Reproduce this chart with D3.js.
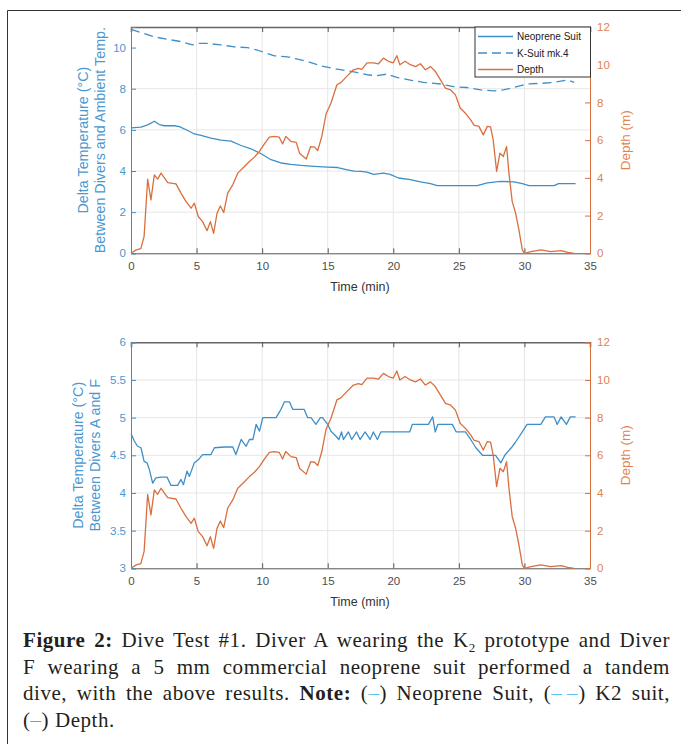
<!DOCTYPE html>
<html>
<head>
<meta charset="utf-8">
<script src="https://cdn.jsdelivr.net/npm/d3@7"></script>
<style>
  body { margin: 0; background: #fff; }
  #wrap { position: relative; width: 681px; height: 744px; overflow: hidden; }
  svg { position: absolute; left: 0; top: 0; }
  .cap { position: absolute; left: 23px; width: 647px; font-family: "Liberation Serif", "DejaVu Serif", serif;
         font-size: 21px; letter-spacing: 0.55px; line-height: 26.7px; color: #231f20; text-align: justify; text-align-last: justify; white-space: nowrap; }
  .cap.last { text-align-last: left; }
  .cap b { font-weight: 600; }
</style>
</head>
<body>
<div id="wrap"></div>
<script>
// time (min), value pairs
const depth = [[0,0],[0.4,0.18],[0.75,0.25],[1.0,0.9],[1.27,3.93],[1.52,2.83],[1.78,4.16],[2.03,3.93],[2.29,4.25],[2.8,3.75],[3.43,3.68],[3.81,3.19],[4.2,2.74],[4.58,2.39],[4.83,2.66],[5.13,1.95],[5.46,1.68],[5.8,1.2],[6.05,1.68],[6.3,1.06],[6.56,2.12],[6.81,2.51],[7.07,2.16],[7.37,3.19],[7.76,3.63],[8.14,4.25],[8.65,4.6],[9.03,4.87],[9.41,5.1],[9.79,5.4],[10.17,5.8],[10.55,6.16],[10.93,6.2],[11.3,6.16],[11.56,5.8],[11.8,6.2],[12.2,5.93],[12.6,5.88],[12.85,5.31],[13.36,5.0],[13.7,5.66],[14.0,5.63],[14.24,5.45],[14.55,6.2],[14.88,7.4],[15.25,7.97],[15.7,8.94],[16.0,9.05],[16.45,9.38],[16.96,9.73],[17.34,9.8],[17.6,9.75],[18.0,10.1],[18.5,10.1],[18.87,10.05],[19.25,10.35],[19.63,10.18],[20.0,10.1],[20.27,10.48],[20.5,10.0],[20.9,10.18],[21.3,10.0],[21.7,9.9],[22.07,10.05],[22.45,9.73],[22.84,9.9],[23.2,9.65],[23.6,9.2],[23.98,8.76],[24.36,8.67],[24.74,8.4],[25.1,7.7],[25.5,7.43],[25.9,7.08],[26.15,6.8],[26.53,6.73],[26.86,6.28],[27.17,6.73],[27.42,6.7],[27.62,6.0],[27.88,4.34],[28.13,5.31],[28.39,5.13],[28.64,5.66],[28.82,4.25],[29.07,2.74],[29.33,2.12],[29.58,1.24],[29.84,0.18],[30.0,0],[30.5,0.09],[31.25,0.18],[32.0,0.09],[32.8,0.14],[33.3,0.05],[33.8,0]];

const neoprene = [[0,6.1],[0.76,6.13],[1.27,6.24],[1.78,6.42],[2.16,6.26],[2.54,6.2],[3.3,6.2],[3.69,6.16],[4.32,5.97],[4.83,5.8],[5.34,5.73],[6.1,5.6],[6.86,5.5],[7.63,5.45],[8.39,5.24],[9.15,5.08],[9.92,4.84],[10.68,4.55],[11.44,4.39],[12.2,4.32],[12.97,4.27],[13.98,4.23],[15.0,4.19],[15.76,4.17],[16.5,4.06],[17.0,3.99],[17.54,3.98],[18.0,3.95],[18.5,3.84],[19.25,3.9],[19.75,3.84],[20.4,3.66],[21.3,3.58],[22.07,3.47],[22.84,3.39],[23.35,3.29],[24.1,3.29],[25.1,3.29],[26.4,3.29],[27.17,3.42],[28.2,3.5],[29.2,3.47],[29.84,3.39],[30.35,3.29],[31.25,3.29],[32.26,3.29],[32.6,3.39],[33.9,3.39]];

const kSuit = [[0,10.89],[0.76,10.73],[1.78,10.52],[2.8,10.4],[3.81,10.29],[4.7,10.13],[5.1,10.2],[5.85,10.2],[6.86,10.13],[7.88,10.03],[8.9,10.0],[9.66,9.87],[10.17,9.76],[10.93,9.6],[11.94,9.55],[12.7,9.44],[13.47,9.32],[14.5,9.11],[15.5,8.98],[16.5,8.87],[17.2,8.79],[18.0,8.68],[18.75,8.63],[19.5,8.71],[20.27,8.55],[21.3,8.42],[22.3,8.31],[23.6,8.23],[24.6,8.1],[25.6,8.06],[26.66,7.94],[27.67,7.9],[28.4,7.94],[29.2,8.06],[30.2,8.23],[31.25,8.26],[32.26,8.31],[33.3,8.42],[33.8,8.31]];

const diffAF = [[0,4.79],[0.25,4.69],[0.5,4.62],[0.76,4.6],[1.0,4.42],[1.22,4.4],[1.4,4.31],[1.65,4.13],[1.9,4.2],[2.29,4.21],[2.75,4.21],[3.05,4.1],[3.56,4.1],[3.81,4.18],[4.0,4.11],[4.27,4.29],[4.45,4.22],[4.83,4.4],[5.13,4.44],[5.46,4.51],[6.1,4.51],[6.36,4.6],[7.12,4.61],[7.76,4.61],[8.0,4.51],[8.4,4.71],[8.78,4.62],[9.03,4.71],[9.3,4.71],[9.54,4.91],[9.8,4.82],[10.05,5.0],[11.06,5.0],[11.44,5.11],[11.7,5.21],[12.08,5.21],[12.33,5.11],[13.2,5.11],[13.47,5.0],[13.73,5.0],[14.1,4.91],[14.44,5.0],[14.6,5.0],[15.0,4.91],[15.25,4.82],[15.6,4.76],[15.85,4.71],[16.05,4.81],[16.2,4.71],[16.58,4.81],[16.83,4.71],[17.2,4.81],[17.47,4.71],[17.85,4.81],[18.23,4.71],[18.48,4.81],[18.79,4.71],[19.05,4.81],[21.25,4.81],[21.45,4.91],[22.68,4.91],[23.0,5.01],[23.2,4.81],[23.4,4.91],[24.5,4.91],[24.8,4.81],[25.5,4.81],[25.9,4.71],[26.3,4.6],[26.8,4.5],[27.8,4.5],[28.2,4.4],[28.5,4.5],[29.0,4.6],[29.3,4.67],[29.8,4.8],[30.2,4.91],[31.25,4.91],[31.6,5.01],[32.26,5.01],[32.5,4.91],[32.8,5.01],[33.2,4.91],[33.5,5.01],[33.9,5.01]];

const timeTicks = [0, 5, 10, 15, 20, 25, 30, 35];
const depthTicks = [0, 2, 4, 6, 8, 10, 12];
const topTempTicks = [0, 2, 4, 6, 8, 10];
const botTempTicks = [3, 3.5, 4, 4.5, 5, 5.5, 6];
const legendNames = ["Neoprene Suit", "K-Suit mk.4", "Depth"];

const blue = "#3f8fc7", blueTxt = "#4a98cf", orange = "#d96f3e", orangeTxt = "#e0834f", gray = "#555";
const W = 681, H = 744;

const svg = d3.select("#wrap").append("svg").attr("width", W).attr("height", H);

// figure frame
svg.append("path").attr("d", "M7.5,744V10.5H681").attr("fill", "none").attr("stroke", "#333").attr("stroke-width", 1);

function panel(top, bottom, tempDomain, tempTicks, labels, labelX) {
  const x = d3.scaleLinear().domain([0, 35]).range([131, 590]);
  const yL = d3.scaleLinear().domain(tempDomain).range([bottom, top]);
  const yR = d3.scaleLinear().domain([0, 12]).range([bottom, top]);
  const g = svg.append("g");

  // grid
  g.append("g").selectAll("line").data(timeTicks.slice(1, -1)).join("line")
    .attr("x1", d => x(d)).attr("x2", d => x(d)).attr("y1", top).attr("y2", bottom)
    .attr("stroke", "#e6e6e6");
  g.append("g").selectAll("line").data(tempTicks.slice(1, -1)).join("line")
    .attr("x1", x(0)).attr("x2", x(35)).attr("y1", d => yL(d)).attr("y2", d => yL(d))
    .attr("stroke", "#e6e6e6");

  const font = "'Liberation Sans', Arial, sans-serif";
  // bottom axis
  const ax = g.append("g").attr("transform", `translate(0,${bottom})`)
    .call(d3.axisBottom(x).tickValues(timeTicks).tickSize(-5).tickPadding(9));
  ax.select(".domain").attr("stroke", gray);
  ax.selectAll("line").attr("stroke", gray);
  ax.selectAll("text").attr("fill", "#4d4d4d").style("font", "11.5px " + font);
  // top axis
  const axT = g.append("g").attr("transform", `translate(0,${top})`)
    .call(d3.axisTop(x).tickValues(timeTicks).tickSize(-5).tickFormat(""));
  axT.select(".domain").attr("stroke", "#666").attr("stroke-width", 1.6);
  axT.selectAll("line").attr("stroke", gray);
  // left axis
  const aL = g.append("g").attr("transform", `translate(${x(0)},0)`)
    .call(d3.axisLeft(yL).tickValues(tempTicks).tickSize(-5).tickPadding(5).tickFormat(d3.format("~g")));
  aL.select(".domain").attr("stroke", blue);
  aL.selectAll("line").attr("stroke", blue);
  aL.selectAll("text").attr("fill", blueTxt).style("font", "11.5px " + font);
  // right axis
  const aR = g.append("g").attr("transform", `translate(${x(35)},0)`)
    .call(d3.axisRight(yR).tickValues(depthTicks).tickSize(-5).tickPadding(7));
  aR.select(".domain").attr("stroke", orange);
  aR.selectAll("line").attr("stroke", orange);
  aR.selectAll("text").attr("fill", orangeTxt).style("font", "11.5px " + font);

  // axis titles
  g.append("text").attr("x", 360).attr("y", bottom + 38).attr("text-anchor", "middle")
    .attr("fill", "#333").style("font", "12.5px " + font).text("Time (min)");
  const mid = (top + bottom) / 2;
  labels.forEach((t, i) => {
    g.append("text").attr("transform", `translate(${labelX + i * 17},${mid}) rotate(-90)`)
      .attr("text-anchor", "middle").attr("fill", blueTxt).style("font", "14.3px " + font).text(t);
  });
  g.append("text").attr("transform", `translate(629.5,${mid}) rotate(-90)`)
    .attr("text-anchor", "middle").attr("fill", orangeTxt).style("font", "13.5px " + font).text("Depth (m)");

  return { g, x, yL, yR };
}

const p1 = panel(27, 253.3, [0, 11], topTempTicks,
  ["Delta Temperature (\u00B0C)", "Between Divers and Ambient Temp."], 88);
const p2 = panel(342.3, 568.3, [3, 6], botTempTicks,
  ["Delta Temperature (\u00B0C)", "Between Divers A and F"], 83);

function drawLine(p, data, y, color, dash) {
  p.g.append("path").datum(data)
    .attr("d", d3.line().x(d => p.x(d[0])).y(d => y(d[1])))
    .attr("fill", "none").attr("stroke", color).attr("stroke-width", 1.3)
    .attr("stroke-linejoin", "round").attr("stroke-dasharray", dash || null);
}

drawLine(p1, neoprene, p1.yL, blue);
drawLine(p1, kSuit, p1.yL, blue, "9,5");
drawLine(p1, depth, p1.yR, orange);
drawLine(p2, diffAF, p2.yL, blue);
drawLine(p2, depth, p2.yR, orange);

// legend
const lg = p1.g.append("g").attr("transform", "translate(475,27)");
lg.append("rect").attr("width", 115.5).attr("height", 50).attr("fill", "#fff").attr("stroke", "#333");
const legStyle = [[blue, null], [blue, "9,5"], [orange, null]];
lg.selectAll("g.item").data(legendNames).join("g").attr("class", "item")
  .attr("transform", (d, i) => `translate(0,${9.5 + i * 16.5})`)
  .each(function (d, i) {
    const it = d3.select(this);
    it.append("line").attr("x1", 3).attr("x2", 38).attr("stroke", legStyle[i][0])
      .attr("stroke-width", 1.3).attr("stroke-dasharray", legStyle[i][1]);
    it.append("text").attr("x", 42).attr("y", 3.5).attr("fill", "#222")
      .style("font", "10px 'Liberation Sans', Arial, sans-serif").text(d);
  });

// caption
const capLines = [
  '<b>Figure 2:</b> Dive Test #1. Diver A wearing the K<sub style="font-size:13px;vertical-align:-5px">2</sub> prototype and Diver',
  'F wearing a 5 mm commercial neoprene suit performed a tandem',
  'dive, with the above results. <b>Note:</b> (<span style="color:#5ec3ea">\u2013</span>) Neoprene Suit, (<span style="color:#5ec3ea">\u2013\u2009\u2013</span>) K2 suit,',
  '(<span style="color:#c9825f">\u2013</span>) Depth.'
];
d3.select("#wrap").selectAll("div.cap").data(capLines).join("div")
  .attr("class", (d, i) => i === capLines.length - 1 ? "cap last" : "cap")
  .style("top", (d, i) => (627 + i * 26.7) + "px")
  .html(d => d);
</script>
</body>
</html>
